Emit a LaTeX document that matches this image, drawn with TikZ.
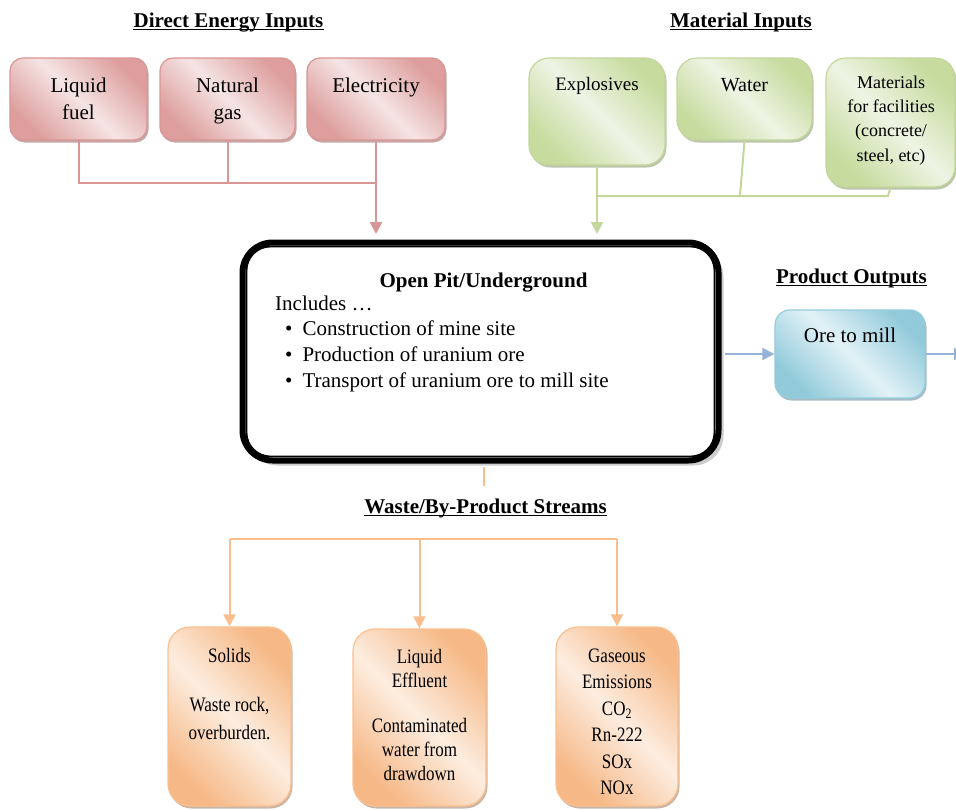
\documentclass[tikz,border=0pt]{standalone}
\usepackage{fontspec}
\setmainfont{Liberation Serif}
\newfontfamily\narrowserif[FakeStretch=0.83]{Liberation Serif}
\usetikzlibrary{shadows,arrows.meta}

% box palettes: border, dark corner, light band, shadow
\definecolor{redB}{RGB}{217,149,148}
\definecolor{redD}{RGB}{221,158,157}
\definecolor{redL}{RGB}{245,228,228}
\definecolor{redS}{RGB}{140,80,80}
\definecolor{grnB}{RGB}{195,214,155}
\definecolor{grnD}{RGB}{198,219,157}
\definecolor{grnL}{RGB}{238,244,228}
\definecolor{grnS}{RGB}{120,140,90}
\definecolor{bluB}{RGB}{147,205,221}
\definecolor{bluD}{RGB}{146,202,218}
\definecolor{bluL}{RGB}{226,242,247}
\definecolor{bluS}{RGB}{80,120,140}
\definecolor{orgB}{RGB}{250,192,144}
\definecolor{orgD}{RGB}{246,184,134}
\definecolor{orgL}{RGB}{253,237,224}
\definecolor{orgS}{RGB}{150,110,80}
\definecolor{redW}{RGB}{217,150,148}
\definecolor{grnW}{RGB}{195,214,155}
\definecolor{bluW}{RGB}{149,179,215}
\definecolor{orgW}{RGB}{250,190,142}

\begin{document}
\begin{tikzpicture}[x=1pt,y=-1pt,
  shadebox/.style n args={5}{draw=#1, line width=1.2pt, rounded corners=#5,
    top color=#2, bottom color=#2, middle color=#3, shading angle=-45,
    drop shadow={shadow xshift=1.5pt, shadow yshift=-2.5pt, fill=#4, opacity=0.5},
    inner sep=0pt},
  redbox/.style={shadebox={redB}{redD}{redL}{redS}{13pt}},
  grnbox/.style={shadebox={grnB}{grnD}{grnL}{grnS}{20pt}},
  blubox/.style={shadebox={bluB}{bluD}{bluL}{bluS}{15pt}},
  orgbox/.style={shadebox={orgB}{orgD}{orgL}{orgS}{22pt}},
  % multi-line texts are placed by the baseline of their last line
  boxtext/.style={anchor=base, align=center, inner sep=0pt, font=\fontsize{21}{27}\selectfont},
  lowtext/.style={anchor=base, align=center, inner sep=0pt},
  heading/.style={anchor=base, inner sep=0pt, font=\fontsize{21}{25}\selectfont\bfseries},
  uline/.style={line width=1.8pt},
  tip/.style={-{Triangle[length=12pt,width=12pt]}},
  redline/.style={draw=redW, line width=2pt},
  grnline/.style={draw=grnW, line width=2pt},
  bluline/.style={draw=bluW, line width=2pt},
  orgline/.style={draw=orgW, line width=2pt},
  pitbox/.style={draw=black, line width=6pt, rounded corners=30pt, fill=white,
    drop shadow={shadow xshift=5pt, shadow yshift=-5pt, fill=black!25, opacity=0.8}}
]
\useasboundingbox (0,0) rectangle (956,809);

% headings
\node[heading] (hE) at (228.5,27) {Direct Energy Inputs};
\node[heading] (hM) at (741,27) {Material Inputs};
\node[heading] (hP) at (851.5,283) {Product Outputs};
\node[heading] (hW) at (485.5,513) {Waste/By-Product Streams};
\foreach \h in {hE,hM,hP,hW}
  \draw[uline] ([yshift=-2.5pt]\h.base west) -- ([yshift=-2.5pt]\h.base east);

% direct energy inputs
\node[redbox, minimum width=137pt, minimum height=82pt] (lf) at (78.5,99) {};
\node[redbox, minimum width=135pt, minimum height=82pt] (ng) at (227.5,99) {};
\node[redbox, minimum width=138pt, minimum height=82pt] (el) at (376,99) {};
\node[boxtext] (lfT) at (78.5,119) {Liquid\\fuel};
\node[boxtext] (ngT) at (227.5,119) {Natural\\gas};
\node[boxtext] (elT) at (376,92) {Electricity};

% material inputs
\node[grnbox, minimum width=136pt, minimum height=107pt] (ex) at (597,111.5) {};
\node[grnbox, minimum width=135pt, minimum height=82pt] (wa) at (744.5,99) {};
\node[grnbox, minimum width=129pt, minimum height=129pt] (ma) at (890.5,122.5) {};
\node[boxtext, font=\fontsize{19}{24}\selectfont] (exT) at (597,90) {Explosives};
\node[boxtext, font=\fontsize{20}{24}\selectfont] (waT) at (744.5,91) {Water};
\node[boxtext, font=\fontsize{18}{24.3}\selectfont] (maT) at (891,161)
  {Materials\\for facilities\\(concrete/\\steel, etc)};

% mining stage
\node[pitbox, minimum width=476pt, minimum height=218pt] (pit) at (480.5,351.5) {};
\draw[line width=1.8pt, rounded corners=24pt]
  ([shift={(7,7)}]pit.north west) rectangle ([shift={(-7,-7)}]pit.south east);
\node[heading] (pitT) at (483.5,287) {Open Pit/Underground};
\node[anchor=base west, align=left, inner sep=0pt, font=\fontsize{21}{25.8}\selectfont] (pitL) at (275,387.4)
  {Includes …\\
   \hspace*{10pt}\textbullet\hspace{10pt}Construction of mine site\\
   \hspace*{10pt}\textbullet\hspace{10pt}Production of uranium ore\\
   \hspace*{10pt}\textbullet\hspace{10pt}Transport of uranium ore to mill site};

% product output
\node[blubox, minimum width=150pt, minimum height=88pt] (ore) at (850,354) {};
\node[boxtext] (oreT) at (850,342) {Ore to mill};

% waste streams
\node[orgbox, minimum width=123pt, minimum height=179pt] (so) at (229.5,716.5) {};
\node[orgbox, minimum width=133pt, minimum height=177pt] (le) at (419.5,717.5) {};
\node[orgbox, minimum width=122pt, minimum height=179pt] (ga) at (617,716.5) {};
\node[lowtext, font=\narrowserif\fontsize{20.5}{28}\selectfont] (soT) at (229.5,739)
  {Solids\\[21pt]Waste rock,\\overburden.};
\node[lowtext, font=\narrowserif\fontsize{20.5}{24}\selectfont] (leT) at (419.5,780)
  {Liquid\\Effluent\\[21pt]Contaminated\\water from\\drawdown};
\node[lowtext, font=\narrowserif\fontsize{20.5}{26.5}\selectfont] (gaT) at (617,794.5)
  {Gaseous\\Emissions\\CO\textsubscript{2}\\Rn-222\\SOx\\NOx};

% energy connectors
\coordinate (rj) at (376,183);
\draw[redline] (lf.south) |- (rj);
\draw[redline] (ng.south) -- (ng.south |- rj);
\draw[redline, tip, shorten >=5.5pt] (el.south) -- (el.south |- pit.north);

% material connectors
\coordinate (gj) at (597,196);
\coordinate (gw) at (740,196);
\coordinate (gm) at (888,196);
\draw[grnline, tip, shorten >=5.5pt] (ex.south) -- (ex.south |- pit.north);
\draw[grnline] (wa.south) -- (gw);
\draw[grnline] (ma.south) -- (gm) -- (gj);

% product connectors
\coordinate (oreout) at (966,354);
\draw[bluline, tip, shorten <=3pt] (pit.east |- ore.west) -- (ore.west);
\draw[bluline, tip] (ore.east) -- (oreout);

% waste connectors
\coordinate (ostub) at (484,486);
\coordinate (oj) at (419.5,539);
\draw[orgline, shorten <=3pt] (pit.south -| ostub) -- (ostub);
\draw[orgline] (so.north |- oj) -- (ga.north |- oj);
\draw[orgline, tip] (so.north |- oj) -- (so.north);
\draw[orgline, tip] (le.north |- oj) -- (le.north);
\draw[orgline, tip] (ga.north |- oj) -- (ga.north);
\end{tikzpicture}
\end{document}
